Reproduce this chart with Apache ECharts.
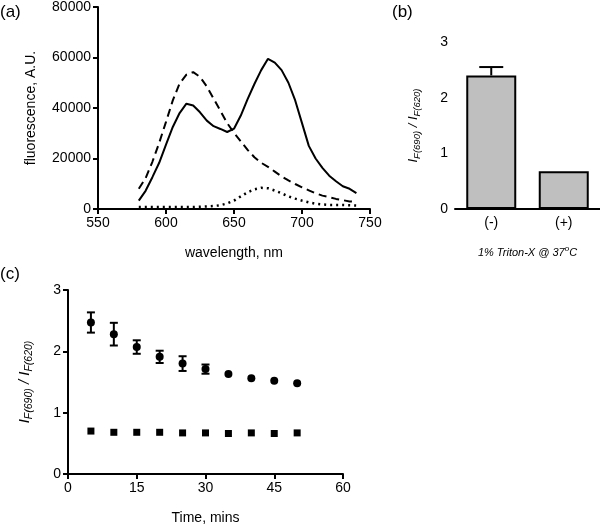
<!DOCTYPE html>
<html>
<head>
<meta charset="utf-8">
<script src="https://cdn.jsdelivr.net/npm/echarts@6/dist/echarts.min.js"></script>
<style>
  html, body { margin: 0; padding: 0; background: #fff; }
  #main { width: 600px; height: 527px; }
</style>
</head>
<body>
<div id="main"></div>
<script>
// panel (a): emission spectra
const wavelength = [580, 585, 590, 595, 600, 605, 610, 615, 620, 625, 630, 635, 640, 645, 650, 655, 660,
  665, 670, 675, 680, 685, 690, 695, 700, 705, 710, 715, 720, 725, 730, 735, 740];
const solidSpectrum = [3300, 7200, 12600, 18300, 25500, 32500, 38000, 41700, 41000, 38300, 35000, 32800, 31700,
  30500, 31800, 37000, 43500, 49500, 55000, 59500, 58000, 55000, 50000, 43000, 34000, 25000, 20000, 16300,
  13200, 11000, 9000, 8000, 6300];
const dashedSpectrum = [8000, 12200, 18700, 26200, 34500, 43000, 49700, 53200, 54200, 52300, 48500, 43700, 38900,
  34000, 30200, 26800, 23400, 20500, 18300, 16700, 14800, 12900, 11300, 9900, 8600, 7400, 6200, 5300,
  4700, 4000, 3500, 3000, 2800];
const dottedSpectrum = [800, 800, 800, 800, 800, 800, 800, 800, 800, 900, 1000, 1200, 1500, 2200, 3300, 5000,
  6600, 7800, 8400, 8200, 7300, 6200, 5000, 4100, 3300, 2600, 2100, 1800, 1600, 1600, 1600, 1500, 1400];

// panel (b): ratio with / without triton
const barCategories = ['(-)', '(+)'];
const barValues = [2.4, 0.68];
const barErrors = [0.15, 0];

// panel (c): ratio over time
const timePoints = [5, 10, 15, 20, 25, 30, 35, 40, 45, 50];
const circleRatio = [2.47, 2.28, 2.07, 1.91, 1.80, 1.71, 1.63, 1.56, 1.52, 1.48];
const circleErrors = [0.165, 0.185, 0.11, 0.10, 0.12, 0.075, 0, 0, 0, 0];
const squareRatio = [0.70, 0.68, 0.68, 0.68, 0.67, 0.67, 0.66, 0.67, 0.66, 0.67];

const FONT = 'Liberation Sans';

var myChart = echarts.init(document.getElementById('main'));

function axisBase() {
  return {
    axisLine: { lineStyle: { color: '#000', width: 2 } },
    axisTick: { length: 5, lineStyle: { color: '#000', width: 2 } },
    axisLabel: {
      color: '#000', fontSize: 14, fontFamily: FONT, margin: 7,
      formatter: function (v) { return String(v); }
    },
    splitLine: { show: false },
    nameTextStyle: { color: '#000', fontSize: 14, fontFamily: FONT }
  };
}

// rich text for I_F(690) / I_F(620)
function ratioName(big, small) {
  return {
    color: '#000',
    fontFamily: FONT,
    rich: {
      i: { fontSize: big, fontStyle: 'italic', fontFamily: FONT, color: '#000', lineHeight: big + 5 },
      s: { fontSize: small, fontStyle: 'italic', fontFamily: FONT, color: '#000', lineHeight: small, verticalAlign: 'bottom' }
    }
  };
}
const ratioText = '{i|I}{s|F(690)}{i| / I}{s|F(620)}';

function errorBars(capHalf, upOnly) {
  return function (params, api) {
    var x = api.value(0), v = api.value(1), e = api.value(2);
    if (!e) return null;
    var top = api.coord([x, v + e]);
    var bot = api.coord([x, upOnly ? v : v - e]);
    var st = { stroke: '#000', lineWidth: 2 };
    var kids = [
      { type: 'line', shape: { x1: top[0], y1: top[1], x2: bot[0], y2: bot[1] }, style: st },
      { type: 'line', shape: { x1: top[0] - capHalf, y1: top[1], x2: top[0] + capHalf, y2: top[1] }, style: st }
    ];
    if (!upOnly) {
      kids.push({ type: 'line', shape: { x1: bot[0] - capHalf, y1: bot[1], x2: bot[0] + capHalf, y2: bot[1] }, style: st });
    }
    return { type: 'group', children: kids };
  };
}

function pairs(xs, ys) {
  return xs.map(function (x, i) { return [x, ys[i]]; });
}

var option = {
  animation: false,
  backgroundColor: '#fff',
  graphic: [
    { type: 'text', left: 0, top: 4, style: { text: '(a)', fontSize: 17, fontFamily: FONT, fill: '#000' } },
    { type: 'text', left: 392, top: 4, style: { text: '(b)', fontSize: 17, fontFamily: FONT, fill: '#000' } },
    { type: 'text', left: 0, top: 266, style: { text: '(c)', fontSize: 17, fontFamily: FONT, fill: '#000' } }
  ],
  grid: [
    { left: 98, top: 6, width: 272, height: 203 },
    { left: 455, top: 42, width: 145, height: 167 },
    { left: 68, top: 290, width: 275, height: 184 }
  ],
  xAxis: [
    Object.assign(axisBase(), {
      gridIndex: 0, type: 'value', min: 550, max: 750, interval: 50,
      name: 'wavelength, nm', nameLocation: 'middle', nameGap: 37
    }),
    Object.assign(axisBase(), {
      gridIndex: 1, type: 'category', data: barCategories,
      axisTick: { alignWithLabel: true, length: 5, lineStyle: { color: '#000', width: 2 } },
      name: '{t|1% Triton-X @ 37}{u|o}{t|C}', nameLocation: 'middle', nameGap: 36,
      nameTextStyle: {
        rich: {
          t: { fontSize: 11, fontStyle: 'italic', fontFamily: FONT, color: '#000', lineHeight: 15 },
          u: { fontSize: 8, fontStyle: 'italic', fontFamily: FONT, color: '#000', lineHeight: 8, verticalAlign: 'top' }
        }
      }
    }),
    Object.assign(axisBase(), {
      gridIndex: 2, type: 'value', min: 0, max: 60, interval: 15,
      name: 'Time, mins', nameLocation: 'middle', nameGap: 37
    })
  ],
  yAxis: [
    Object.assign(axisBase(), {
      gridIndex: 0, type: 'value', min: 0, max: 80000, interval: 20000,
      name: 'fluorescence, A.U.', nameLocation: 'middle', nameGap: 60
    }),
    Object.assign(axisBase(), {
      gridIndex: 1, type: 'value', min: 0, max: 3, interval: 1,
      name: ratioText, nameLocation: 'middle', nameGap: 33,
      nameTextStyle: ratioName(13, 9.5)
    }),
    Object.assign(axisBase(), {
      gridIndex: 2, type: 'value', min: 0, max: 3, interval: 1,
      name: ratioText, nameLocation: 'middle', nameGap: 33,
      nameTextStyle: ratioName(15, 10.5)
    })
  ],
  series: [
    {
      type: 'line', xAxisIndex: 0, yAxisIndex: 0, showSymbol: false,
      data: pairs(wavelength, solidSpectrum),
      lineStyle: { color: '#000', width: 2 }
    },
    {
      type: 'line', xAxisIndex: 0, yAxisIndex: 0, showSymbol: false,
      data: pairs(wavelength, dashedSpectrum),
      lineStyle: { color: '#000', width: 2, type: [8, 5] }
    },
    {
      type: 'line', xAxisIndex: 0, yAxisIndex: 0, showSymbol: false,
      data: pairs(wavelength, dottedSpectrum),
      lineStyle: { color: '#000', width: 2.5, type: [2, 4] }
    },
    {
      type: 'bar', xAxisIndex: 1, yAxisIndex: 1, barWidth: 50,
      data: barValues,
      itemStyle: { color: '#bfbfbf', borderColor: '#000', borderWidth: 2 }
    },
    {
      type: 'custom', xAxisIndex: 1, yAxisIndex: 1, z: 5,
      data: barValues.map(function (v, i) { return [i, v, barErrors[i]]; }),
      renderItem: errorBars(12, true)
    },
    {
      type: 'scatter', xAxisIndex: 2, yAxisIndex: 2, symbol: 'circle', symbolSize: 8,
      data: pairs(timePoints, circleRatio),
      itemStyle: { color: '#000', opacity: 1 }
    },
    {
      type: 'scatter', xAxisIndex: 2, yAxisIndex: 2, symbol: 'rect', symbolSize: 7,
      data: pairs(timePoints, squareRatio),
      itemStyle: { color: '#000', opacity: 1 }
    },
    {
      type: 'custom', xAxisIndex: 2, yAxisIndex: 2, z: 5,
      data: timePoints.map(function (t, i) { return [t, circleRatio[i], circleErrors[i]]; }),
      renderItem: errorBars(4, false)
    }
  ]
};

myChart.setOption(option);
</script>
</body>
</html>
